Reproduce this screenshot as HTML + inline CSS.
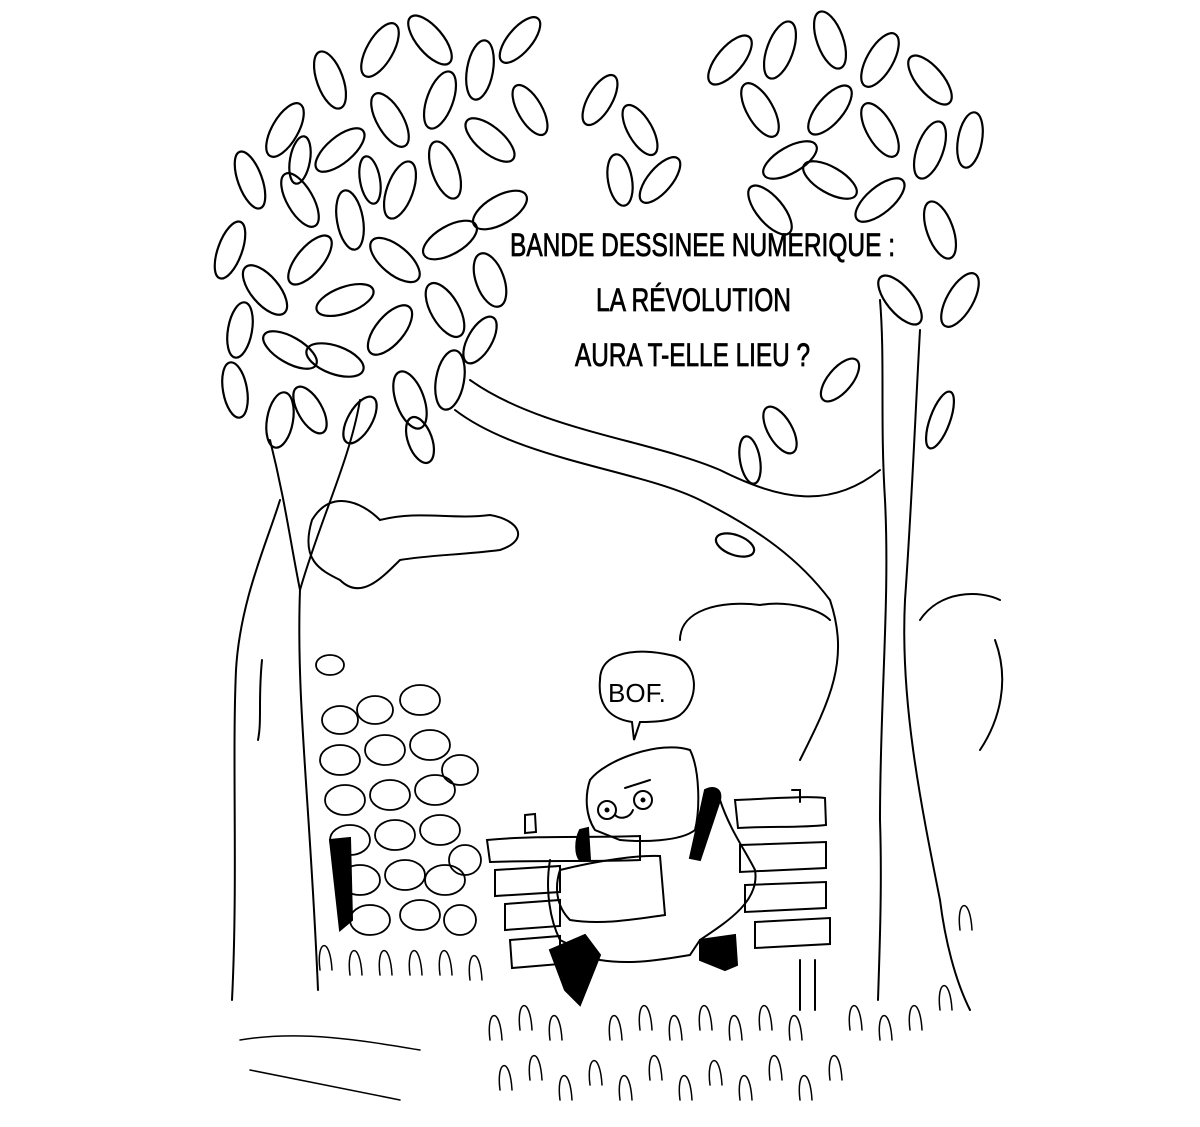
<!DOCTYPE html>
<html><head><meta charset="utf-8"><style>
html,body{margin:0;padding:0;background:#fff;}
svg{display:block}
text{font-family:"Liberation Sans Narrow","Liberation Sans",sans-serif;}
</style></head><body>
<svg width="1200" height="1127" viewBox="0 0 1200 1127" xmlns="http://www.w3.org/2000/svg" fill="none" stroke="#000" stroke-width="2" stroke-linecap="round">
<path d="M236 670 C232 760 238 880 232 1000"/>
<path d="M262 660 C258 700 262 720 258 740"/>
<path d="M300 590 C296 700 310 800 318 990"/>
<path d="M300 590 C290 540 285 500 270 440"/>
<path d="M300 590 C320 520 350 460 360 400"/>
<path d="M236 670 C240 600 268 540 280 500"/>
<path d="M470 380 C540 430 650 440 720 470 C780 500 830 510 880 470"/>
<path d="M455 410 C520 460 640 470 700 500 C760 530 800 560 830 600 C850 660 830 700 800 760"/>
<path d="M880 300 C885 360 880 420 885 500 C890 600 880 700 880 820 C882 880 880 940 878 1000"/>
<path d="M920 330 C915 420 912 500 905 600 C900 700 920 800 940 900 C945 940 955 980 970 1010"/>
<path d="M312 520 C330 490 360 500 380 520 C420 510 450 520 490 515 C520 520 530 540 500 550 C460 555 430 555 400 560 C380 580 360 600 340 580 C320 570 300 560 312 520"/>
<path d="M680 640 C680 610 720 600 760 605 C790 600 820 610 830 620"/>
<path d="M920 620 C940 590 980 590 1000 600 M995 640 C1010 680 1000 720 980 750"/>
<g fill="#000" stroke="#000" stroke-width="0.8" font-size="32">
<text x="510" y="256" textLength="385" lengthAdjust="spacingAndGlyphs">BANDE DESSINEE NUMERIQUE :</text>
<text x="596" y="311" textLength="195" lengthAdjust="spacingAndGlyphs">LA RÉVOLUTION</text>
<text x="575" y="366" textLength="235" lengthAdjust="spacingAndGlyphs">AURA T-ELLE LIEU ?</text>
</g>
<g stroke-width="2.2">
<ellipse cx="250" cy="180" rx="12" ry="30" transform="rotate(-20 250 180)"/>
<ellipse cx="230" cy="250" rx="12" ry="30" transform="rotate(20 230 250)"/>
<ellipse cx="265" cy="290" rx="14" ry="30" transform="rotate(-40 265 290)"/>
<ellipse cx="240" cy="330" rx="12" ry="28" transform="rotate(10 240 330)"/>
<ellipse cx="235" cy="390" rx="12" ry="28" transform="rotate(-10 235 390)"/>
<ellipse cx="285" cy="130" rx="13" ry="30" transform="rotate(30 285 130)"/>
<ellipse cx="300" cy="200" rx="13" ry="30" transform="rotate(-30 300 200)"/>
<ellipse cx="310" cy="260" rx="13" ry="30" transform="rotate(40 310 260)"/>
<ellipse cx="290" cy="350" rx="13" ry="30" transform="rotate(-60 290 350)"/>
<ellipse cx="280" cy="420" rx="13" ry="28" transform="rotate(10 280 420)"/>
<ellipse cx="330" cy="80" rx="13" ry="30" transform="rotate(-20 330 80)"/>
<ellipse cx="340" cy="150" rx="13" ry="30" transform="rotate(50 340 150)"/>
<ellipse cx="350" cy="220" rx="13" ry="30" transform="rotate(-10 350 220)"/>
<ellipse cx="345" cy="300" rx="13" ry="30" transform="rotate(70 345 300)"/>
<ellipse cx="335" cy="360" rx="14" ry="30" transform="rotate(-70 335 360)"/>
<ellipse cx="380" cy="50" rx="13" ry="30" transform="rotate(30 380 50)"/>
<ellipse cx="390" cy="120" rx="13" ry="30" transform="rotate(-30 390 120)"/>
<ellipse cx="400" cy="190" rx="13" ry="30" transform="rotate(20 400 190)"/>
<ellipse cx="395" cy="260" rx="14" ry="30" transform="rotate(-50 395 260)"/>
<ellipse cx="390" cy="330" rx="14" ry="30" transform="rotate(40 390 330)"/>
<ellipse cx="410" cy="400" rx="14" ry="30" transform="rotate(-20 410 400)"/>
<ellipse cx="430" cy="40" rx="13" ry="30" transform="rotate(-40 430 40)"/>
<ellipse cx="440" cy="100" rx="13" ry="30" transform="rotate(20 440 100)"/>
<ellipse cx="445" cy="170" rx="13" ry="30" transform="rotate(-20 445 170)"/>
<ellipse cx="450" cy="240" rx="14" ry="30" transform="rotate(60 450 240)"/>
<ellipse cx="445" cy="310" rx="14" ry="30" transform="rotate(-30 445 310)"/>
<ellipse cx="450" cy="380" rx="14" ry="30" transform="rotate(10 450 380)"/>
<ellipse cx="480" cy="70" rx="13" ry="30" transform="rotate(10 480 70)"/>
<ellipse cx="490" cy="140" rx="13" ry="30" transform="rotate(-50 490 140)"/>
<ellipse cx="500" cy="210" rx="14" ry="30" transform="rotate(60 500 210)"/>
<ellipse cx="490" cy="280" rx="14" ry="28" transform="rotate(-20 490 280)"/>
<ellipse cx="520" cy="40" rx="12" ry="28" transform="rotate(40 520 40)"/>
<ellipse cx="530" cy="110" rx="12" ry="28" transform="rotate(-30 530 110)"/>
<ellipse cx="600" cy="100" rx="12" ry="28" transform="rotate(30 600 100)"/>
<ellipse cx="640" cy="130" rx="12" ry="28" transform="rotate(-30 640 130)"/>
<ellipse cx="660" cy="180" rx="12" ry="28" transform="rotate(40 660 180)"/>
<ellipse cx="620" cy="180" rx="12" ry="26" transform="rotate(-10 620 180)"/>
<ellipse cx="360" cy="420" rx="12" ry="26" transform="rotate(30 360 420)"/>
<ellipse cx="310" cy="410" rx="12" ry="26" transform="rotate(-30 310 410)"/>
<ellipse cx="480" cy="340" rx="12" ry="26" transform="rotate(30 480 340)"/>
<ellipse cx="420" cy="440" rx="12" ry="24" transform="rotate(-20 420 440)"/>
<ellipse cx="300" cy="160" rx="10" ry="24" transform="rotate(10 300 160)"/>
<ellipse cx="370" cy="180" rx="10" ry="24" transform="rotate(-10 370 180)"/>
</g>
<g stroke-width="2.2">
<ellipse cx="730" cy="60" rx="13" ry="30" transform="rotate(40 730 60)"/>
<ellipse cx="760" cy="110" rx="13" ry="30" transform="rotate(-30 760 110)"/>
<ellipse cx="780" cy="50" rx="13" ry="30" transform="rotate(20 780 50)"/>
<ellipse cx="790" cy="160" rx="13" ry="30" transform="rotate(60 790 160)"/>
<ellipse cx="770" cy="210" rx="13" ry="30" transform="rotate(-40 770 210)"/>
<ellipse cx="830" cy="40" rx="13" ry="30" transform="rotate(-20 830 40)"/>
<ellipse cx="830" cy="110" rx="13" ry="30" transform="rotate(40 830 110)"/>
<ellipse cx="830" cy="180" rx="13" ry="30" transform="rotate(-60 830 180)"/>
<ellipse cx="880" cy="60" rx="13" ry="30" transform="rotate(30 880 60)"/>
<ellipse cx="880" cy="130" rx="13" ry="30" transform="rotate(-30 880 130)"/>
<ellipse cx="880" cy="200" rx="13" ry="30" transform="rotate(50 880 200)"/>
<ellipse cx="930" cy="80" rx="13" ry="30" transform="rotate(-40 930 80)"/>
<ellipse cx="930" cy="150" rx="13" ry="30" transform="rotate(20 930 150)"/>
<ellipse cx="940" cy="230" rx="13" ry="30" transform="rotate(-20 940 230)"/>
<ellipse cx="960" cy="300" rx="13" ry="30" transform="rotate(30 960 300)"/>
<ellipse cx="900" cy="300" rx="13" ry="30" transform="rotate(-40 900 300)"/>
<ellipse cx="970" cy="140" rx="12" ry="28" transform="rotate(10 970 140)"/>
<ellipse cx="840" cy="380" rx="12" ry="26" transform="rotate(40 840 380)"/>
<ellipse cx="780" cy="430" rx="12" ry="26" transform="rotate(-30 780 430)"/>
<ellipse cx="940" cy="420" rx="10" ry="30" transform="rotate(20 940 420)"/>
<ellipse cx="735" cy="545" rx="20" ry="10" transform="rotate(20 735 545)"/>
<ellipse cx="750" cy="460" rx="10" ry="24" transform="rotate(-10 750 460)"/>
</g>
<g stroke-width="1.8">
<ellipse cx="340" cy="720" rx="18" ry="14"/><ellipse cx="375" cy="710" rx="18" ry="14"/><ellipse cx="420" cy="700" rx="20" ry="15"/>
<ellipse cx="340" cy="760" rx="20" ry="15"/><ellipse cx="385" cy="750" rx="20" ry="15"/><ellipse cx="430" cy="745" rx="20" ry="15"/><ellipse cx="460" cy="770" rx="18" ry="15"/>
<ellipse cx="345" cy="800" rx="20" ry="15"/><ellipse cx="390" cy="795" rx="20" ry="15"/><ellipse cx="435" cy="790" rx="20" ry="15"/>
<ellipse cx="350" cy="840" rx="20" ry="15"/><ellipse cx="395" cy="835" rx="20" ry="15"/><ellipse cx="440" cy="830" rx="20" ry="15"/><ellipse cx="465" cy="860" rx="16" ry="15"/>
<ellipse cx="360" cy="880" rx="20" ry="15"/><ellipse cx="405" cy="875" rx="20" ry="15"/><ellipse cx="445" cy="880" rx="20" ry="15"/>
<ellipse cx="370" cy="920" rx="20" ry="15"/><ellipse cx="420" cy="915" rx="20" ry="15"/><ellipse cx="460" cy="920" rx="16" ry="15"/>
<ellipse cx="330" cy="665" rx="14" ry="10"/>
</g>
<path d="M330 840 L350 838 L352 920 L340 930 Z" fill="#000"/>
<g stroke-width="2">
<path d="M487 840 C540 835 600 838 640 836 L640 860 C600 862 540 860 490 862 Z"/>
<path d="M495 870 L560 866 L560 892 L495 896 Z"/>
<path d="M505 904 L560 900 L560 926 L505 930 Z"/>
<path d="M510 940 L560 936 L560 964 L512 968 Z"/>
<path d="M735 800 C780 798 810 796 825 798 L826 825 C800 828 770 826 738 828 Z"/>
<path d="M740 845 L826 842 L826 868 L740 872 Z"/>
<path d="M745 885 L826 882 L826 908 L745 912 Z"/>
<path d="M755 922 L830 918 L830 944 L755 948 Z"/>
<path d="M525 815 L535 814 L536 832 L525 833 Z"/>
<path d="M792 790 L800 790 L800 802"/>
<path d="M800 960 L800 1010"/><path d="M815 960 L815 1010"/>
</g>
<path d="M600 680 C600 650 640 648 670 655 C700 660 700 700 680 715 C670 722 650 722 640 722 L634 740 L632 722 C605 718 598 700 600 680 Z"/>
<text x="608" y="702" font-size="26" fill="#000" stroke="none">BOF.</text>
<path d="M590 780 C605 760 660 740 690 750 C700 770 700 810 695 830 C680 842 640 842 620 840 L595 830 C585 815 585 795 590 780 Z"/>
<circle cx="607" cy="810" r="9"/><circle cx="643" cy="800" r="9"/>
<circle cx="607" cy="810" r="1.5" fill="#000"/><circle cx="643" cy="800" r="1.5" fill="#000"/>
<path d="M615 815 C620 820 630 818 633 810"/><path d="M625 788 L650 780"/>
<path d="M550 860 C545 890 550 920 560 940 L600 960 C630 965 660 960 690 955 L700 940 C730 920 760 900 755 870 C745 850 730 830 720 800"/>
<path d="M560 870 C600 860 640 855 660 856 L665 915 C630 920 600 925 570 920 C555 905 555 885 560 870"/>
<path d="M580 830 C575 840 575 855 580 860 L590 860 L588 828 Z" fill="#000"/>
<path d="M705 790 C715 785 722 790 720 800 L700 860 L690 858 Z" fill="#000"/>
<path d="M550 950 L585 935 L600 955 L580 1005 L565 990 Z" fill="#000"/>
<path d="M700 940 L735 935 L737 965 L725 970 L700 960 Z" fill="#000"/>
<g stroke-width="1.5">
<path d="M500 1090 C496 1060 510 1055 512 1090 M530 1080 C526 1050 540 1045 542 1080 M560 1100 C556 1070 570 1065 572 1100 M590 1085 C586 1055 600 1050 602 1085 M620 1100 C616 1070 630 1065 632 1100 M650 1080 C646 1050 660 1045 662 1080 M680 1100 C676 1070 690 1065 692 1100 M710 1085 C706 1055 720 1050 722 1085 M740 1100 C736 1070 750 1065 752 1100 M770 1080 C766 1050 780 1045 782 1080 M800 1100 C796 1070 810 1065 812 1100 M830 1080 C826 1050 840 1045 842 1080"/>
<path d="M490 1040 C486 1010 500 1005 502 1040 M520 1030 C516 1000 530 995 532 1030 M550 1040 C546 1010 560 1005 562 1040 M610 1040 C606 1010 620 1005 622 1040 M640 1030 C636 1000 650 995 652 1030 M670 1040 C666 1010 680 1005 682 1040 M700 1030 C696 1000 710 995 712 1030 M730 1040 C726 1010 740 1005 742 1040 M760 1030 C756 1000 770 995 772 1030 M790 1040 C786 1010 800 1005 802 1040 M850 1030 C846 1000 860 995 862 1030 M880 1040 C876 1010 890 1005 892 1040 M910 1030 C906 1000 920 995 922 1030 M940 1010 C936 980 950 975 952 1010 M960 930 C956 900 970 895 972 930"/>
<path d="M320 970 C316 940 330 935 332 970 M350 975 C346 945 360 940 362 975 M380 975 C376 945 390 940 392 975 M410 975 C406 945 420 940 422 975 M440 975 C436 945 450 940 452 975 M470 980 C466 950 480 945 482 980"/>
<path d="M240 1040 C300 1030 360 1040 420 1050 M250 1070 C300 1080 350 1090 400 1100"/>
</g>
</svg>
</body></html>
